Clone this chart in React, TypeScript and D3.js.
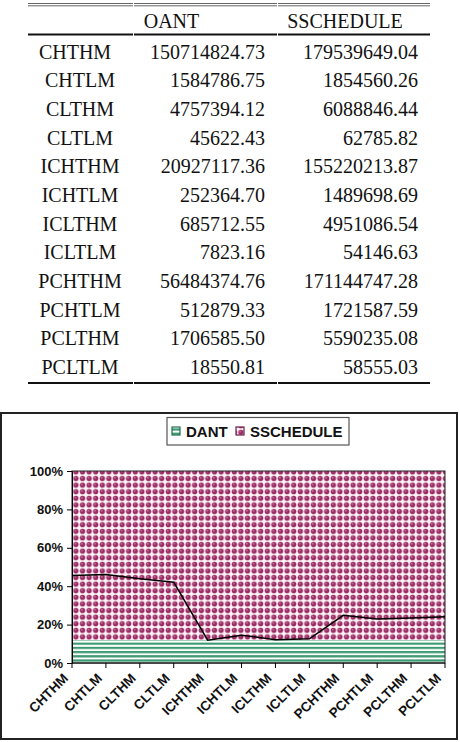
import React, { useEffect, useRef } from 'react';
import * as d3 from 'd3';

const categories = ['CHTHM', 'CHTLM', 'CLTHM', 'CLTLM', 'ICHTHM', 'ICHTLM', 'ICLTHM', 'ICLTLM', 'PCHTHM', 'PCHTLM', 'PCLTHM', 'PCLTLM'];
const oant = [150714824.73, 1584786.75, 4757394.12, 45622.43, 20927117.36, 252364.70, 685712.55, 7823.16, 56484374.76, 512879.33, 1706585.50, 18550.81];
const sschedule = [179539649.04, 1854560.26, 6088846.44, 62785.82, 155220213.87, 1489698.69, 4951086.54, 54146.63, 171144747.28, 1721587.59, 5590235.08, 58555.03];
const tableHeaders = ['OANT', 'SSCHEDULE'];
const legendNames = ['DANT', 'SSCHEDULE'];
const yTicks = [0, 0.2, 0.4, 0.6, 0.8, 1];

export default function App() {
  const svgRef = useRef<SVGSVGElement>(null);

  useEffect(() => {
    const svg = d3.select(svgRef.current);
    svg.selectAll('*').remove();

    const defs = svg.append('defs');
    // maroon dotted pattern
    const dots = defs.append('pattern')
      .attr('id', 'dots')
      .attr('patternUnits', 'userSpaceOnUse')
      .attr('width', 6.6)
      .attr('height', 6.6);
    dots.append('rect').attr('width', 6.6).attr('height', 6.6).attr('fill', '#fdf3f8');
    dots.append('circle').attr('cx', 3.3).attr('cy', 3.3).attr('r', 2.65).attr('fill', '#9a2c63');
    dots.append('circle').attr('cx', 2.7).attr('cy', 2.6).attr('r', 0.9).attr('fill', '#c4709b');
    // green stripes
    const stripes = defs.append('pattern')
      .attr('id', 'stripes')
      .attr('patternUnits', 'userSpaceOnUse')
      .attr('width', 6)
      .attr('height', 4.2);
    stripes.append('rect').attr('width', 6).attr('height', 4.2).attr('fill', '#ffffff');
    stripes.append('rect').attr('y', 0).attr('width', 6).attr('height', 2.2).attr('fill', '#3c9a72');

    // ---------- table ----------
    const tbl = svg.append('g').attr('font-family', '"Liberation Serif", "Times New Roman", serif').attr('font-size', '20px').attr('fill', '#111');
    const segs = [[28, 133], [134, 277], [278, 430]];
    segs.forEach(([a, b]) => {
      tbl.append('line').attr('x1', a).attr('x2', b).attr('y1', 3.5).attr('y2', 3.5).attr('stroke', '#666').attr('stroke-width', 1);
      tbl.append('line').attr('x1', a).attr('x2', b).attr('y1', 5.8).attr('y2', 5.8).attr('stroke', '#666').attr('stroke-width', 1);
      tbl.append('line').attr('x1', a).attr('x2', b).attr('y1', 34.5).attr('y2', 34.5).attr('stroke', '#111').attr('stroke-width', 2);
      tbl.append('line').attr('x1', a).attr('x2', b).attr('y1', 383).attr('y2', 383).attr('stroke', '#111').attr('stroke-width', 2);
    });
    tbl.append('text').attr('x', 171.5).attr('y', 27.5).attr('text-anchor', 'middle').text(tableHeaders[0]);
    tbl.append('text').attr('x', 345).attr('y', 27.5).attr('text-anchor', 'middle').text(tableHeaders[1]);

    const rowY = d3.scaleLinear().domain([0, categories.length - 1]).range([58.5, 374]);
    categories.forEach((c, i) => {
      const y = rowY(i);
      tbl.append('text').attr('x', i === 0 ? 75 : 80).attr('y', y).attr('text-anchor', 'middle').text(c);
      tbl.append('text').attr('x', 265).attr('y', y).attr('text-anchor', 'end').text(oant[i].toFixed(2));
      tbl.append('text').attr('x', 418).attr('y', y).attr('text-anchor', 'end').text(sschedule[i].toFixed(2));
    });

    // ---------- chart ----------
    svg.append('rect')
      .attr('x', 1).attr('y', 413).attr('width', 456).attr('height', 326)
      .attr('fill', '#fff').attr('stroke', '#222').attr('stroke-width', 2);

    const shares = categories.map((_, i) => oant[i] / (oant[i] + sschedule[i]));
    const base = d3.min(shares) as number;

    const x = d3.scalePoint<string>().domain(categories).range([72, 445]);
    const y = d3.scaleLinear().domain([0, 1]).range([663, 471]);

    const chart = svg.append('g').attr('font-family', '"Liberation Sans", Arial, sans-serif').attr('font-weight', 'bold');

    // SSCHEDULE fill
    const upper = d3.area<string>().x(d => x(d) as number).y0(() => y(base)).y1(() => y(1));
    chart.append('path').datum(categories).attr('d', upper).attr('fill', 'url(#dots)');
    // DANT fill
    const lower = d3.area<string>().x(d => x(d) as number).y0(() => y(0)).y1(() => y(base));
    chart.append('path').datum(categories).attr('d', lower).attr('fill', 'url(#stripes)');

    // plot frame
    chart.append('rect')
      .attr('x', 72).attr('y', y(1)).attr('width', 373).attr('height', y(0) - y(1))
      .attr('fill', 'none').attr('stroke', '#222').attr('stroke-width', 1);

    // DANT share line
    const line = d3.line<number>().x((_, i) => x(categories[i]) as number).y(d => y(d));
    chart.append('path').datum(shares).attr('d', line).attr('fill', 'none').attr('stroke', '#000').attr('stroke-width', 1.5);

    // y axis
    const yAxis = chart.append('g').attr('transform', 'translate(72,0)')
      .call(d3.axisLeft(y).tickValues(yTicks).tickFormat(d3.format('.0%')).tickSize(5).tickPadding(4));
    yAxis.select('.domain').attr('stroke', '#000');
    yAxis.selectAll('.tick line').attr('stroke', '#000');
    yAxis.selectAll('text').attr('font-size', '13px').attr('font-family', '"Liberation Sans", Arial, sans-serif').attr('font-weight', 'bold').attr('fill', '#111');

    // x axis
    const xg = chart.append('g');
    xg.append('line').attr('x1', 72).attr('x2', 445).attr('y1', y(0)).attr('y2', y(0)).attr('stroke', '#000');
    categories.forEach(c => {
      const px = x(c) as number;
      xg.append('line').attr('x1', px).attr('x2', px).attr('y1', y(0)).attr('y2', y(0) + 5).attr('stroke', '#000');
      xg.append('text')
        .attr('transform', `translate(${px - 3},${y(0) + 16}) rotate(-45)`)
        .attr('text-anchor', 'end')
        .attr('font-size', '13.5px')
        .attr('fill', '#111')
        .text(c);
    });

    // legend
    const lg = chart.append('g');
    lg.append('rect').attr('x', 167).attr('y', 417.5).attr('width', 182).attr('height', 27.5)
      .attr('fill', '#fff').attr('stroke', '#555').attr('stroke-width', 1.2);
    const fills = ['url(#stripes)', 'url(#dots)'];
    const sw = [172, 236];
    legendNames.forEach((n, i) => {
      lg.append('rect').attr('x', sw[i]).attr('y', 427).attr('width', 8).attr('height', 8)
        .attr('fill', fills[i]).attr('stroke', i === 0 ? '#1f6e4c' : '#6b1f46').attr('stroke-width', 1.2);
      lg.append('text').attr('x', sw[i] + 14).attr('y', 436.5).attr('font-size', '15px').attr('fill', '#111').text(n);
    });
  }, []);

  return (
    <svg ref={svgRef} width={460} height={742}
      style={{ position: 'absolute', left: 0, top: 0, display: 'block', background: '#fff' }} />
  );
}
